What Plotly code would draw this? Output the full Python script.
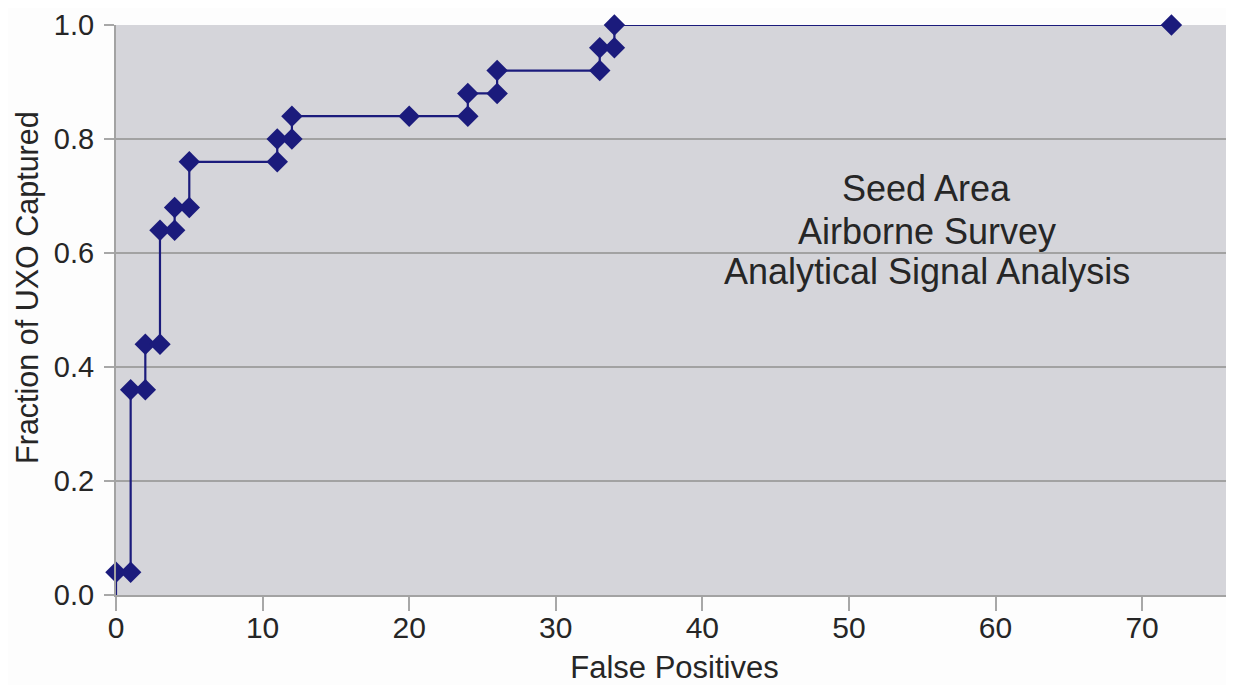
import plotly.graph_objects as go

# Data (fraction of 25 UXO items)
false_positives = [0, 0, 1, 1, 2, 2, 3, 3, 4, 4, 5, 5, 11, 11, 12, 12, 20, 24, 24, 26, 26, 33, 33, 34, 34, 72]
fraction_captured = [0.0, 0.04, 0.04, 0.36, 0.36, 0.44, 0.44, 0.64, 0.64, 0.68, 0.68, 0.76, 0.76, 0.80,
                     0.80, 0.84, 0.84, 0.84, 0.88, 0.88, 0.92, 0.92, 0.96, 0.96, 1.0, 1.0]
x_ticks = [0, 10, 20, 30, 40, 50, 60, 70]
y_ticks = [0.0, 0.2, 0.4, 0.6, 0.8, 1.0]
note_lines = ["Seed Area", "Airborne Survey", "Analytical Signal Analysis"]

NAVY = "#1b1b7c"
FONT = "Liberation Sans, Arial, Helvetica, sans-serif"
TXT = "#262626"

# first point (origin) carries no marker
sizes = [0] + [16.5] * (len(false_positives) - 1)

fig = go.Figure()
fig.add_trace(go.Scatter(
    x=false_positives, y=fraction_captured, mode="lines+markers",
    line=dict(color=NAVY, width=2.2),
    marker=dict(symbol="diamond", size=sizes, color=NAVY, opacity=1, line=dict(width=0)),
    cliponaxis=False, showlegend=False,
))

note_y = [0.713, 0.638, 0.568]
for txt, yy in zip(note_lines, note_y):
    fig.add_annotation(x=55.3, y=yy, xref="x", yref="y", text=txt, showarrow=False,
                       xanchor="center", yanchor="middle",
                       font=dict(family=FONT, size=36, color=TXT))

fig.add_annotation(x=-0.0965, y=0.54, xref="paper", yref="paper",
                   text="Fraction of UXO Captured", textangle=-90, showarrow=False,
                   xanchor="left", yanchor="middle", borderpad=0,
                   font=dict(family=FONT, size=30.5, color=TXT))

# page body has an 8px margin, so the figure is sized to the remaining window
fig.update_layout(
    width=1226, height=677,
    margin=dict(l=107.7, r=1, t=14.5, b=88),
    paper_bgcolor="#fdfdfd", plot_bgcolor="#d5d5da",
    font=dict(family=FONT, size=29, color=TXT),
    xaxis=dict(range=[0, 76.2], tickmode="array", tickvals=x_ticks,
               ticktext=[str(v) for v in x_ticks],
               showgrid=False, zeroline=False, showline=True, linecolor="#a3a3a3", linewidth=2,
               ticks="outside", ticklen=14, tickwidth=1.5, tickcolor="#a8a8a8",
               ticklabelstandoff=-9, ticklabeloverflow="allow",
               tickfont=dict(family=FONT, size=30, color=TXT),
               title=dict(text="False Positives", standoff=18,
                          font=dict(family=FONT, size=31, color=TXT))),
    yaxis=dict(range=[0, 1], tickmode="array", tickvals=y_ticks,
               ticktext=[f"{v:.1f}" for v in y_ticks],
               showgrid=True, gridcolor="#a2a2a2", gridwidth=1.5,
               zeroline=False, showline=True, linecolor="#a3a3a3", linewidth=2,
               ticks="outside", ticklen=10, tickwidth=1.5, tickcolor="#a8a8a8",
               ticklabelstandoff=4, ticklabeloverflow="allow",
               tickfont=dict(family=FONT, size=29, color=TXT)),
)

fig.write_html("out.html")
